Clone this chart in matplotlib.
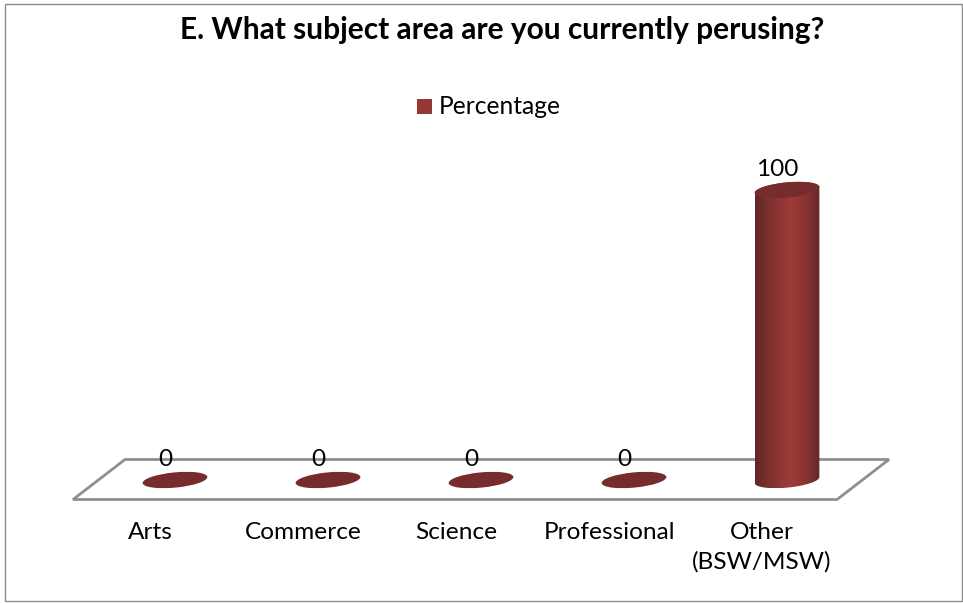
import numpy as np
import matplotlib
matplotlib.use("Agg")
import matplotlib.pyplot as plt
from matplotlib.patches import Ellipse, Polygon, Rectangle
from matplotlib.path import Path
from matplotlib.patches import PathPatch
from matplotlib.transforms import IdentityTransform
from matplotlib.colors import LinearSegmentedColormap

categories = ["Arts", "Commerce", "Science", "Professional", "Other\n(BSW/MSW)"]
values = [0, 0, 0, 0, 100]
series_name = "Percentage"
title = "E. What subject area are you currently perusing?"

W, H = 963, 603
plt.rcParams["font.family"] = ["Lato", "DejaVu Sans"]
fig = plt.figure(figsize=(W / 100, H / 100), dpi=100)
ax = fig.add_axes([0, 0, 1, 1])
# scale: category step 153 px, 100 units = 290 px
x0, dx, y0, dy = 175, 153.0, 123.0, 2.9   # y0 = px above bottom for value 0
ax.set_xlim(-x0 / dx, (W - x0) / dx)
ax.set_ylim(-y0 / dy, (H - y0) / dy)
ax.axis("off")

to_px = ax.transData.transform
ident = IdentityTransform()

# outer border
fig.add_artist(Rectangle((4.5 / W, 2 / H), 957.5 / W, 597 / H, transform=fig.transFigure,
                         fill=False, ec="#8c8c8c", lw=1.0))

# floor
floor_y_front, floor_y_back = -19.5 / dy, 20.5 / dy
floor = [(-102 / dx, floor_y_front), (-50 / dx, floor_y_back),
         (len(categories) - 1 + (889 - 787) / dx, floor_y_back),
         (len(categories) - 1 + (837 - 787) / dx, floor_y_front)]
ax.add_patch(Polygon(floor, closed=True, fill=False, ec="#8f8f8f", lw=2.0, zorder=1))

a, b, tilt = 32.5, 7.6, np.radians(5.5)
grad = LinearSegmentedColormap.from_list(
    "cyl", [(0, "#5c2928"), (0.12, "#6f2d2c"), (0.35, "#8d3533"), (0.55, "#9e3b39"),
            (0.78, "#8a3432"), (0.93, "#6e2d2c"), (1, "#5f2928")])
cap = "#752c2b"


def ell_pts(cx, cy, t):
    return np.c_[cx + a * np.cos(t) * np.cos(tilt) - b * np.sin(t) * np.sin(tilt),
                 cy + a * np.cos(t) * np.sin(tilt) + b * np.sin(t) * np.cos(tilt)]


for i, (cat, v) in enumerate(zip(categories, values)):
    bx, by = to_px((i, 0))
    tx, ty = to_px((i, v))
    if v > 0:
        t_left = np.arctan(-(b / a) * np.tan(tilt))
        ts = np.linspace(t_left + np.pi, t_left + 2 * np.pi, 60)
        lower = ell_pts(bx, by, ts)
        upper = ell_pts(tx, ty, ts - np.pi)
        poly = np.vstack([lower, upper])
        clip = PathPatch(Path(np.vstack([poly, poly[0]]), closed=True), transform=ident, fc="none", ec="none")
        ax.add_patch(clip)
        g = np.linspace(0, 1, 256).reshape(1, -1)
        xl, xr = poly[:, 0].min(), poly[:, 0].max()
        yb, yt = poly[:, 1].min(), poly[:, 1].max()
        im = ax.imshow(g, cmap=grad, aspect="auto", transform=ident,
                       extent=(xl, xr, yb, yt), zorder=2, interpolation="bilinear")
        im.set_clip_path(clip)
    ax.add_patch(Ellipse((tx, ty), 2 * a, 2 * b, angle=np.degrees(tilt), transform=ident,
                         fc=cap, ec="none", zorder=3))
    ax.annotate(str(v), (i, v), xytext=(-10, 21), textcoords="offset pixels",
                ha="center", va="center", fontsize=17.6, color="black", zorder=4)
    ax.annotate(cat, (i, 0), xytext=(-25, -42), textcoords="offset pixels", ha="center", va="top",
                fontsize=17.6, color="black", linespacing=1.48)

ax.set_xlim(-x0 / dx, (W - x0) / dx)
ax.set_ylim(-y0 / dy, (H - y0) / dy)

fig.text(502 / W, 1 - 30 / H, title, ha="center", va="center", fontsize=21.5, fontweight="bold")
fig.add_artist(Rectangle((417 / W, 1 - 114 / H), 15 / W, 15 / H, transform=fig.transFigure, fc="#953735", ec="none"))
fig.text(439 / W, 1 - 107 / H, series_name, ha="left", va="center", fontsize=17.7)

fig.savefig("out.png", dpi=100)
